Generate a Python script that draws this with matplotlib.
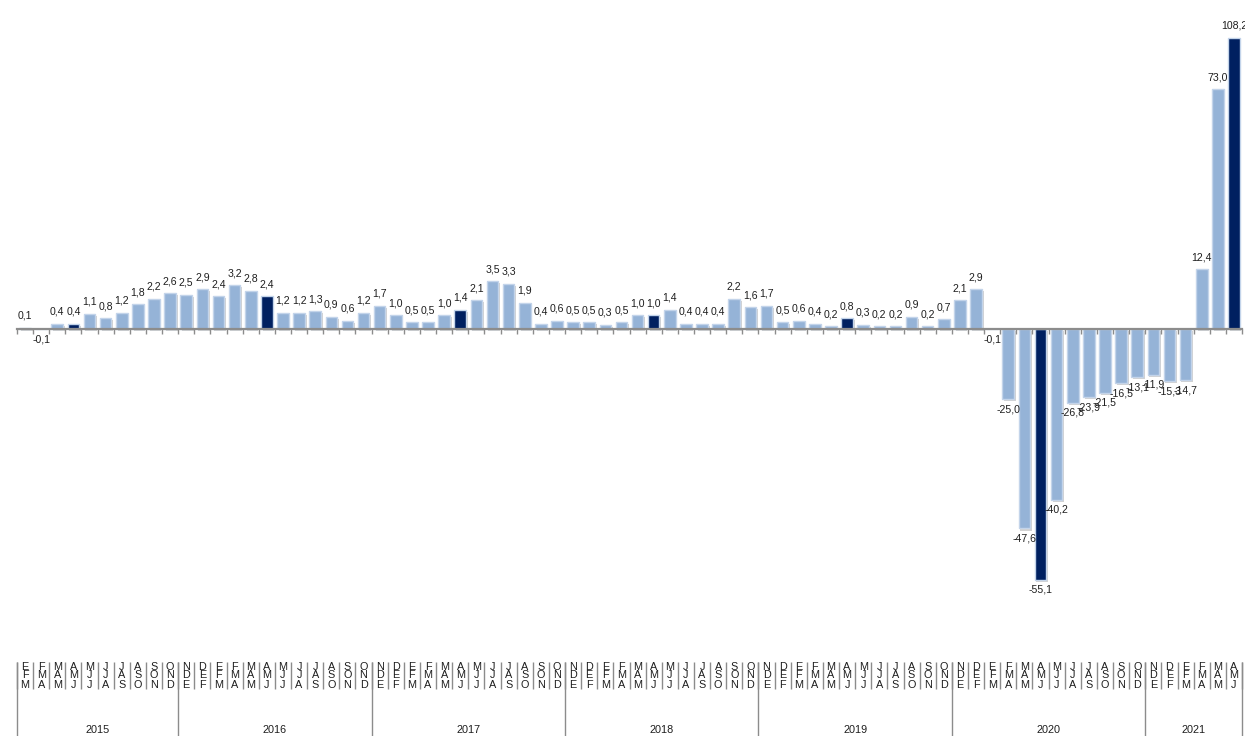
import numpy as np
import matplotlib
matplotlib.use("Agg")
import matplotlib.pyplot as plt
from matplotlib import patheffects as pe

plt.rcParams['font.family'] = ['Liberation Sans', 'DejaVu Sans']

# ---------------- data ----------------
MONTH_INITIALS = ["E", "F", "M", "A", "M", "J", "J", "A", "S", "O", "N", "D"]

values = [0.1, -0.1, 0.4, 0.4, 1.1, 0.8, 1.2, 1.8, 2.2, 2.6,
          2.5, 2.9, 2.4, 3.2, 2.8, 2.4, 1.2, 1.2, 1.3, 0.9, 0.6, 1.2,
          1.7, 1.0, 0.5, 0.5, 1.0, 1.4, 2.1, 3.5, 3.3, 1.9, 0.4, 0.6,
          0.5, 0.5, 0.3, 0.5, 1.0, 1.0, 1.4, 0.4, 0.4, 0.4, 2.2, 1.6,
          1.7, 0.5, 0.6, 0.4, 0.2, 0.8, 0.3, 0.2, 0.2, 0.9, 0.2, 0.7,
          2.1, 2.9, -0.1, -25.0, -47.6, -55.1, -40.2, -26.8, -23.9, -21.5, -16.5, -13.1,
          -11.9, -15.3, -14.7, 12.4, 73.0, 108.2]

years = ["2015", "2016", "2017", "2018", "2019", "2020", "2021"]
year_sizes = [10, 12, 12, 12, 12, 12, 6]

# rolling three-month periods, first one = E F M 2015
periods = [MONTH_INITIALS[i % 12] + MONTH_INITIALS[(i + 1) % 12] + MONTH_INITIALS[(i + 2) % 12]
           for i in range(len(values))]
highlight_period = "AMJ"

# irregular (piecewise) value axis of the original chart
scale_knots_val = [-70, -55, -48, -40, -27, -12, 0, 3.5, 12.5, 73, 108, 140]
scale_knots_pos = [-354, -250, -201, -170, -74, -46, 0, 48, 60, 240, 291, 337]

# ---------------- style ----------------
LIGHT = "#95B3D7"
DARK = "#002060"
EDGE = "#C3D4EA"
GRID_GREY = "#8C8C8C"
TXT = "#1E1E1E"
FS = 7.6

W, H = 1245, 736
fig = plt.figure(figsize=(W / 100, H / 100), dpi=100)
fig.patch.set_facecolor("white")

left_px, right_px = 17, 1242
ax_top_px, ax_bot_px = 0, 640
zero_px = 329

ax = fig.add_axes([left_px / W, (H - ax_bot_px) / H, (right_px - left_px) / W,
                   (ax_bot_px - ax_top_px) / H])


def fwd(v):
    return np.interp(v, scale_knots_val, scale_knots_pos)


def inv(p):
    return np.interp(p, scale_knots_pos, scale_knots_val)


ax.set_yscale("function", functions=(fwd, inv))
ax.set_ylim(inv(-(ax_bot_px - zero_px)), inv(zero_px - ax_top_px))

n = len(values)
x = np.arange(n)
ax.set_xlim(-0.5, n - 0.5)

colors = [DARK if p == highlight_period else LIGHT for p in periods]
bars = ax.bar(x, values, width=0.72, color=colors, edgecolor=EDGE, linewidth=1.0, zorder=2)
for b in bars:
    b.set_path_effects([pe.SimplePatchShadow(offset=(1.2, -1.5), shadow_rgbFace="#7F7F7F", alpha=0.35),
                        pe.Normal()])

for xi, v in zip(x, values):
    lab = f"{v:.1f}".replace(".", ",")
    if v >= 0:
        ax.annotate(lab, (xi, v), xytext=(0, 9), textcoords="offset pixels",
                    ha="center", va="baseline", fontsize=FS, color=TXT)
    else:
        ax.annotate(lab, (xi, v), xytext=(0, -5), textcoords="offset pixels",
                    ha="center", va="top", fontsize=FS, color=TXT)

for s in ["top", "right", "left"]:
    ax.spines[s].set_visible(False)
ax.spines["bottom"].set_position(("data", 0))
ax.spines["bottom"].set_color(GRID_GREY)
ax.spines["bottom"].set_linewidth(1.6)
ax.spines["bottom"].set_zorder(3)
ax.set_yticks([])
ax.set_xticks(np.arange(n + 1) - 0.5)
ax.set_xticklabels([])
ax.tick_params(axis="x", direction="out", length=3.5, width=1, color=GRID_GREY)
ax.patch.set_alpha(0)

# ---------------- period table ----------------
tab_top_px = 655
tax = fig.add_axes([left_px / W, 0, (right_px - left_px) / W, (H - tab_top_px) / H])
tax.set_xlim(-0.5, n - 0.5)
tax.set_ylim(0, 1)
tax.axis("off")


def fy(px):
    return (H - px) / (H - tab_top_px)


bounds = np.arange(n + 1) - 0.5
tax.vlines(bounds, fy(689), fy(662), color=GRID_GREY, lw=1.0, clip_on=False)
year_edges = np.concatenate([[0], np.cumsum(year_sizes)]) - 0.5
tax.vlines(year_edges, fy(736), fy(662), color=GRID_GREY, lw=1.0, clip_on=False)

row_y = [fy(666.5), fy(675.5), fy(684.5)]
for xi, p in zip(x, periods):
    for r, ch in enumerate(p):
        tax.text(xi, row_y[r], ch, ha="center", va="center", fontsize=7.8, color=TXT)

for yr, a, b in zip(years, year_edges[:-1], year_edges[1:]):
    tax.text((a + b) / 2, fy(730), yr, ha="center", va="center", fontsize=7.8, color=TXT)

fig.savefig("out.png", dpi=100, facecolor="white")
